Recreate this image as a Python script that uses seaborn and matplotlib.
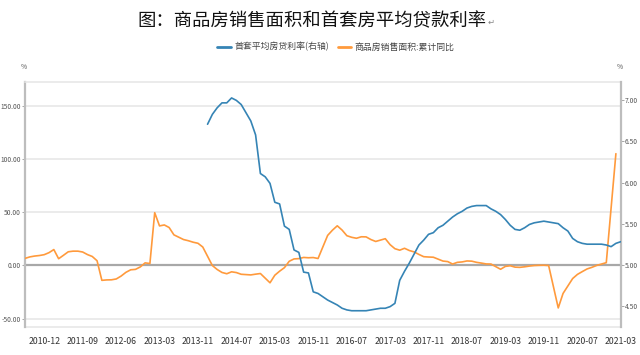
import numpy as np
import pandas as pd
import matplotlib
matplotlib.use("Agg")
import matplotlib.pyplot as plt
import seaborn as sns

sns.set_style("white")
plt.rcParams['font.family'] = ['Noto Sans CJK SC', 'DejaVu Sans']
plt.rcParams['axes.unicode_minus'] = False

# ---- categories: 2010-08..2013-12 without January, then monthly 2014-01..2021-03
categories = []
for y in range(2010, 2014):
    for m in range(1, 13):
        if (y == 2010 and m < 8) or m == 1:
            continue
        categories.append(f"{y}-{m:02d}")
for y in range(2014, 2022):
    for m in range(1, 13):
        if y == 2021 and m > 3:
            break
        categories.append(f"{y}-{m:02d}")

tick_labels = ["2010-12", "2011-09", "2012-06", "2013-03", "2013-11", "2014-07",
               "2015-03", "2015-11", "2016-07", "2017-03", "2017-11", "2018-07",
               "2019-03", "2019-11", "2020-07", "2021-03"]

nan = np.nan
# 商品房销售面积:累计同比 (%)
sales_yoy = [6.6, 8.0, 8.8, 9.3, 10.1,
             12.0, 14.9, 6.3, 9.5, 12.8, 13.4, 13.4, 12.6, 10.2, 8.4, 4.4,
             -14.0, -13.6, -13.5, -12.7, -10.0, -6.5, -4.1, -3.7, -1.4, 2.4, 1.8,
             49.5, 37.1, 38.0, 35.6, 28.7, 26.5, 24.3, 23.2, 21.8, 20.8, 17.3,
             nan, -0.1, -3.8, -6.6, -7.8, -6.0, -6.7, -8.3, -8.6, -8.9, -8.2, -7.6,
             nan, -16.3, -9.2, -5.4, -2.1, 3.9, 6.1, 6.4, 7.5, 7.2, 7.4, 6.5,
             nan, 28.2, 33.1, 37.2, 33.2, 27.9, 26.4, 25.5, 26.9, 26.8, 24.3, 22.5,
             nan, 25.1, 19.5, 15.7, 14.3, 16.1, 14.0, 12.7, 10.3, 8.2, 7.9, 7.7,
             nan, 4.1, 3.6, 1.3, 2.9, 3.3, 4.2, 4.0, 2.9, 2.2, 1.4, 1.3,
             nan, -3.6, -0.9, -0.3, -1.6, -1.8, -1.3, -0.6, -0.1, 0.1, 0.2, -0.1,
             nan, -39.9, -26.3, -19.3, -12.3, -8.4, -5.8, -3.3, -1.8, 0.0, 1.3, 2.6,
             nan, 104.9, nan]

# 首套平均房贷利率 (%), 2014-01 .. 2021-03
loan_rate_2014_on = [6.71, 6.83, 6.91, 6.97, 6.97, 7.03, 7.00, 6.95, 6.85, 6.75, 6.58, 6.11,
                     6.07, 5.99, 5.76, 5.74, 5.47, 5.43, 5.18, 5.15, 4.91, 4.90, 4.67, 4.65,
                     4.61, 4.57, 4.54, 4.51, 4.47, 4.45, 4.44, 4.44, 4.44, 4.44, 4.45, 4.46,
                     4.47, 4.47, 4.49, 4.53, 4.81, 4.92, 5.02, 5.13, 5.24, 5.30, 5.37, 5.39,
                     5.45, 5.48, 5.53, 5.58, 5.62, 5.65, 5.69, 5.71, 5.72, 5.72, 5.72, 5.68,
                     5.65, 5.61, 5.55, 5.48, 5.43, 5.42, 5.45, 5.49, 5.51, 5.52, 5.53, 5.52,
                     5.51, 5.50, 5.45, 5.41, 5.32, 5.28, 5.26, 5.25, 5.25, 5.25, 5.25, 5.24,
                     5.22, 5.26, 5.28]

label_rate = "首套平均房贷利率(右轴)"
label_sales = "商品房销售面积:累计同比"
c_blue = "#3584b5"
c_orange = "#ff9a3c"

n = len(categories)
loan_rate = [nan] * (n - len(loan_rate_2014_on)) + loan_rate_2014_on
df = pd.DataFrame({"date": categories, "pos": np.arange(n),
                   "sales": sales_yoy, "rate": loan_rate})

fig = plt.figure(figsize=(6.4, 3.55), dpi=100)
ax = fig.add_axes([25 / 640, 28 / 355, 595.7 / 640, 245 / 355])
ax2 = ax.twinx()

d1 = df.dropna(subset=["sales"])
sns.lineplot(data=d1, x="pos", y="sales", ax=ax, color=c_orange, lw=1.2, label=label_sales, legend=False, zorder=3)
d2 = df.dropna(subset=["rate"])
sns.lineplot(data=d2, x="pos", y="rate", ax=ax2, color=c_blue, lw=1.2, label=label_rate, legend=False, zorder=3)

ax.set_xlim(0, n - 1)
ax.set_ylim(-57.8, 172.2)
ax2.set_ylim(4.242, 7.224)

grid_c = "#e6e6e6"
axis_c = "#bdbdbd"
ax.set_yticks([-50, 0, 50, 100, 150])
ax.set_yticklabels([f"{v:.2f}" for v in [-50, 0, 50, 100, 150]])
ax.grid(axis="y", color=grid_c, lw=1.1)
ax.grid(axis="x", visible=False)
ax2.set_yticks([4.5, 5.0, 5.5, 6.0, 6.5, 7.0])
ax2.set_yticklabels([f"{v:.2f}" for v in [4.5, 5.0, 5.5, 6.0, 6.5, 7.0]])
ax2.grid(False)

ax.set_xlabel(""); ax.set_ylabel(""); ax2.set_xlabel(""); ax2.set_ylabel("")

tick_pos = [categories.index(t) for t in tick_labels]
ax.set_xticks(tick_pos)
ax.spines["bottom"].set_position(("data", 0))
ax.spines["bottom"].set_color("#a8a8a8")
ax.spines["bottom"].set_linewidth(1.6)
ax.spines["bottom"].set_zorder(2)
ax.tick_params(axis="x", length=3, width=0.8, color="#a8a8a8", labelbottom=False, direction="out")

sec = ax.secondary_xaxis("bottom")
sec.set_xticks(tick_pos)
sec.set_xticklabels(tick_labels)
sec.tick_params(length=0, pad=7.5, labelsize=6.3, labelcolor="#333333")
sec.spines["bottom"].set_color(grid_c)
sec.spines["bottom"].set_linewidth(1.1)

for sp in ["top"]:
    ax.spines[sp].set_color(grid_c); ax.spines[sp].set_linewidth(1.1)
    ax2.spines[sp].set_visible(False)
ax.spines["left"].set_color(axis_c); ax.spines["left"].set_linewidth(1.6)
ax.spines["right"].set_visible(False)
ax2.spines["right"].set_color(axis_c); ax2.spines["right"].set_linewidth(1.6)
ax2.spines["left"].set_visible(False)
ax2.spines["bottom"].set_visible(False)

ax.tick_params(axis="y", length=2, width=0.6, color="#999999", pad=1, labelsize=4.8, labelcolor="#555555")
ax2.tick_params(axis="y", length=2, width=0.6, color="#999999", pad=1, labelsize=4.8, labelcolor="#555555")

fig.text(24 / 640, 1 - 67 / 355, "%", fontsize=4.8, color="#555555", ha="center", va="center")
fig.text(620 / 640, 1 - 67 / 355, "%", fontsize=4.8, color="#555555", ha="center", va="center")

title = fig.text(0.487, 1 - 21 / 355, "图：商品房销售面积和首套房平均贷款利率", fontsize=13.2,
                 color="#111111", ha="center", va="center", fontweight="medium")
fig.canvas.draw()
bb = title.get_window_extent()
fig.text((bb.x1 + 1) / 640, (bb.y0 + 3) / 355, "↵", fontsize=6, color="#888888",
         ha="left", va="bottom", family=["DejaVu Sans"])

h1 = ax2.get_lines()[0]
h2 = ax.get_lines()[0]
leg = fig.legend([h1, h2], [label_rate, label_sales], loc="center",
                 bbox_to_anchor=(0.525, 1 - 47 / 355), ncol=2, frameon=False,
                 fontsize=6.4, handlelength=1.5, handletextpad=0.4, columnspacing=1.0)
for l in leg.get_lines():
    l.set_linewidth(2)
for t in leg.get_texts():
    t.set_color("#444444")

fig.savefig("out.png", dpi=100)
